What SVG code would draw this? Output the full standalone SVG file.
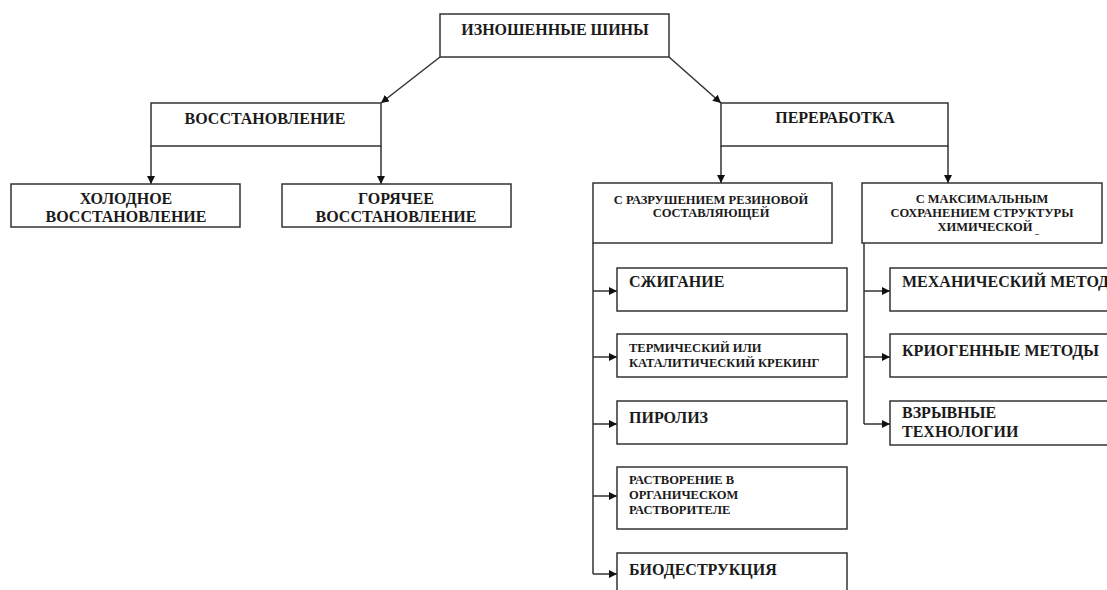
<svg xmlns="http://www.w3.org/2000/svg" width="1107" height="590" viewBox="0 0 1107 590">
<style>
.box{fill:#fff;stroke:#333;stroke-width:1.5}
.t{font-family:"Liberation Serif","Times New Roman",serif;font-weight:bold;fill:#1a1a1a}
.b{font-size:16px}
.s{font-size:12.5px}
.c{text-anchor:middle}
.ln{fill:none;stroke:#333;stroke-width:1.5}
</style>
<defs>
<marker id="ar" viewBox="0 0 10 10" refX="10" refY="5" markerWidth="8" markerHeight="8" markerUnits="userSpaceOnUse" orient="auto">
<path d="M0,0 L10,5 L0,10 z" fill="#111"/>
</marker>
</defs>
<rect width="1107" height="590" fill="#fff"/>
<g id="connectors">
<path class="ln" d="M440,57 L381,103" marker-end="url(#ar)"/>
<path class="ln" d="M669,57 L721,103" marker-end="url(#ar)"/>
<path class="ln" d="M151,146 V184" marker-end="url(#ar)"/>
<path class="ln" d="M381,146 V184" marker-end="url(#ar)"/>
<path class="ln" d="M721,146 V183" marker-end="url(#ar)"/>
<path class="ln" d="M948,146 V183" marker-end="url(#ar)"/>
<path class="ln" d="M593,243 V574"/>
<path class="ln" d="M593,291 H617" marker-end="url(#ar)"/>
<path class="ln" d="M593,357 H617" marker-end="url(#ar)"/>
<path class="ln" d="M593,424 H617" marker-end="url(#ar)"/>
<path class="ln" d="M593,496 H617" marker-end="url(#ar)"/>
<path class="ln" d="M593,574 H617" marker-end="url(#ar)"/>
<path class="ln" d="M864,243 V424"/>
<path class="ln" d="M864,291 H890" marker-end="url(#ar)"/>
<path class="ln" d="M864,357 H890" marker-end="url(#ar)"/>
<path class="ln" d="M864,424 H890" marker-end="url(#ar)"/>
</g>
<g id="n-root"><rect class="box" x="440" y="14" width="229" height="43"/><text class="t b c" x="555" y="35">ИЗНОШЕННЫЕ ШИНЫ</text></g>
<g id="n-restore"><rect class="box" x="151" y="103" width="230" height="43"/><text class="t b c" x="265" y="124">ВОССТАНОВЛЕНИЕ</text></g>
<g id="n-recycle"><rect class="box" x="721" y="103" width="227" height="43"/><text class="t b c" x="835" y="123">ПЕРЕРАБОТКА</text></g>
<g id="n-cold"><rect class="box" x="11" y="184" width="229" height="43"/><text class="t b c" x="126" y="204">ХОЛОДНОЕ</text><text class="t b c" x="126" y="222">ВОССТАНОВЛЕНИЕ</text></g>
<g id="n-hot"><rect class="box" x="282" y="184" width="229" height="43"/><text class="t b c" x="396" y="204">ГОРЯЧЕЕ</text><text class="t b c" x="396" y="222">ВОССТАНОВЛЕНИЕ</text></g>
<g id="n-destroy"><rect class="box" x="593" y="183" width="239" height="60"/><text class="t s c" x="711" y="204">С РАЗРУШЕНИЕМ РЕЗИНОВОЙ</text><text class="t s c" x="711" y="217">СОСТАВЛЯЮЩЕЙ</text></g>
<g id="n-preserve"><rect class="box" x="862" y="183" width="240" height="60"/><text class="t s c" x="982" y="203">С МАКСИМАЛЬНЫМ</text><text class="t s c" x="982" y="217">СОХРАНЕНИЕМ СТРУКТУРЫ</text><text class="t s c" x="985" y="231">ХИМИЧЕСКОЙ</text><text class="t" x="1035" y="234" font-size="8">_</text></g>
<g id="n-burn"><rect class="box" x="617" y="268" width="230" height="43"/><text class="t b" x="629" y="287">СЖИГАНИЕ</text></g>
<g id="n-crack"><rect class="box" x="617" y="334" width="230" height="43"/><text class="t s" x="629" y="352">ТЕРМИЧЕСКИЙ ИЛИ</text><text class="t s" x="629" y="367">КАТАЛИТИЧЕСКИЙ КРЕКИНГ</text></g>
<g id="n-pyro"><rect class="box" x="617" y="401" width="230" height="43"/><text class="t b" x="629" y="423">ПИРОЛИЗ</text></g>
<g id="n-solve"><rect class="box" x="617" y="467" width="230" height="62"/><text class="t s" x="629" y="484">РАСТВОРЕНИЕ В</text><text class="t s" x="629" y="499">ОРГАНИЧЕСКОМ</text><text class="t s" x="629" y="514">РАСТВОРИТЕЛЕ</text></g>
<g id="n-bio"><rect class="box" x="617" y="553" width="230" height="50"/><text class="t b" x="629" y="575">БИОДЕСТРУКЦИЯ</text></g>
<g id="n-mech"><rect class="box" x="890" y="268" width="230" height="43"/><text class="t b" x="902" y="287">МЕХАНИЧЕСКИЙ МЕТОД</text></g>
<g id="n-cryo"><rect class="box" x="890" y="334" width="230" height="43"/><text class="t b" x="902" y="356">КРИОГЕННЫЕ МЕТОДЫ</text></g>
<g id="n-blast"><rect class="box" x="890" y="401" width="230" height="44"/><text class="t b" x="902" y="418">ВЗРЫВНЫЕ</text><text class="t b" x="902" y="437">ТЕХНОЛОГИИ</text></g>
</svg>
